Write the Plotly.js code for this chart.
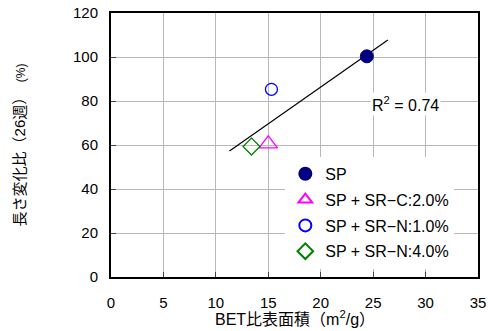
<!DOCTYPE html>
<html><head><meta charset="utf-8">
<script src="https://cdn.plot.ly/plotly-3.0.1.min.js"></script>
<style>html,body{margin:0;padding:0;background:#fff}#chart{width:491px;height:331px}</style>
</head><body><div id="chart"></div>
<script>
// Data
const seriesNames = ["SP", "SP + SR−C:2.0%", "SP + SR−N:1.0%", "SP + SR−N:4.0%"];
const seriesX = [[24.4], [15.0], [15.3], [13.4]];
const seriesY = [[100.3], [60.5], [85.3], [59.3]];
const trendX = [11.3, 26.4];
const trendY = [57.3, 107.7];
const r2Label = "R<sup>2</sup> = 0.74";
const xTitle = "BET比表面積（m<sup>2</sup>/g）";
const yTitle = "長さ変化比（26週）　<span style='font-size:12px'>(%)</span>";
const xTicks = [0, 5, 10, 15, 20, 25, 30, 35];
const yTicks = [0, 20, 40, 60, 80, 100, 120];

const FONT = "Liberation Sans, Arial, Noto Sans CJK JP, sans-serif";
const styles = [
  {symbol: "circle", color: "#000080", size: 13, line: {color: "#000080", width: 1}},
  {symbol: "triangle-up-open", color: "#ff00ff", size: 16, line: {color: "#ff00ff", width: 1.3}},
  {symbol: "circle-open", color: "#0000ff", size: 12, line: {color: "#0000ff", width: 1.3}},
  {symbol: "diamond-open", color: "#008000", size: 13, line: {color: "#008000", width: 1.3}}
];

const traces = [{
  x: trendX, y: trendY, mode: "lines", showlegend: false, hoverinfo: "skip",
  line: {color: "#000000", width: 1.2}
}];
seriesNames.forEach((n, i) => {
  traces.push({
    x: seriesX[i], y: seriesY[i], mode: "markers", name: n, legendgroup: "g" + i,
    marker: {symbol: styles[i].symbol, color: styles[i].color, size: styles[i].size, line: styles[i].line}
  });
});

const layout = {
  width: 491, height: 331,
  margin: {l: 111, r: 13, t: 13, b: 54},
  paper_bgcolor: "#ffffff", plot_bgcolor: "#ffffff",
  font: {family: FONT, size: 15, color: "#000000"},
  showlegend: true,
  legend: {x: 0.475, y: 0.455, xanchor: "left", yanchor: "top", bgcolor: "#ffffff",
           borderwidth: 0, tracegroupgap: 2, itemsizing: "constant",
           font: {family: FONT, size: 16, color: "#000"}},
  xaxis: {
    range: [0, 35], tickvals: xTicks, ticktext: xTicks.map(String),
    showgrid: true, gridcolor: "#b8b8b8", gridwidth: 1, zeroline: false,
    showline: true, linecolor: "#000", linewidth: 2, mirror: true,
    ticks: "inside", ticklen: 5, tickcolor: "#444", ticklabelstandoff: 11,
    tickfont: {family: FONT, size: 15}
  },
  yaxis: {
    range: [0, 120], tickvals: yTicks, ticktext: yTicks.map(String),
    showgrid: true, gridcolor: "#b8b8b8", gridwidth: 1, zeroline: false,
    showline: true, linecolor: "#000", linewidth: 2, mirror: true,
    ticks: "inside", ticklen: 5, tickcolor: "#444", ticklabelstandoff: 8,
    tickfont: {family: FONT, size: 15},
    title: {text: yTitle, font: {family: FONT, size: 15}, standoff: 44}
  },
  annotations: [{
    x: 28.1, y: 78.5, xref: "x", yref: "y", text: r2Label, showarrow: false,
    bgcolor: "#ffffff", font: {family: FONT, size: 16, color: "#000"}
  }, {
    x: 0.5, y: -0.155, xref: "paper", yref: "paper", xanchor: "center", yanchor: "middle",
    text: xTitle, showarrow: false, font: {family: FONT, size: 16, color: "#000"}
  }]
};
Plotly.newPlot("chart", traces, layout, {staticPlot: true, displayModeBar: false});
</script></body></html>
